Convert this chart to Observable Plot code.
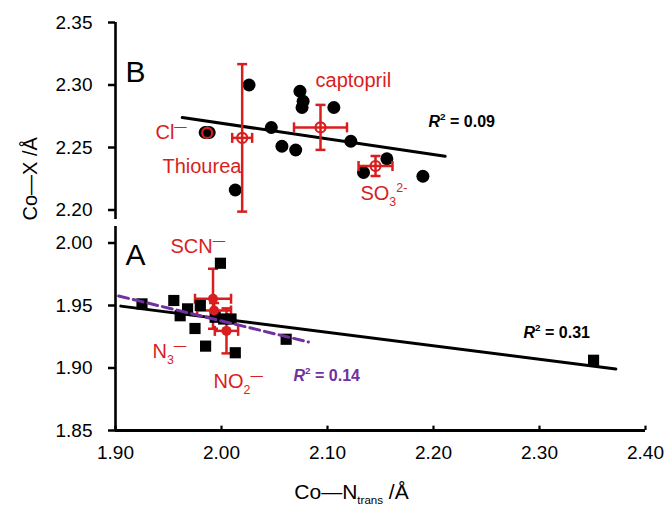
<!DOCTYPE html>
<html>
<head>
<meta charset="utf-8">
<script src="https://cdn.jsdelivr.net/npm/d3@7"></script>
<script src="https://cdn.jsdelivr.net/npm/@observablehq/plot@0.6"></script>
<style>
  body { margin: 0; background: #fff; }
  #chart { width: 670px; height: 509px; }
</style>
</head>
<body>
<div id="chart"></div>
<script>
// ---------- Panel B (upper): Co–X vs Co–N_trans ----------
const bCoN = [2.026, 2.074, 2.077, 2.076, 2.106, 2.047, 2.057, 2.070, 2.122, 2.156, 2.134, 2.190, 2.013, 1.9846, 1.9884];
const bCoX = [2.300, 2.295, 2.287, 2.282, 2.282, 2.266, 2.251, 2.248, 2.255, 2.241, 2.230, 2.227, 2.216, 2.262, 2.262];
const bRedNames = ["Cl⁻", "Thiourea", "captopril", "SO₃²⁻"];
const bRedCoN = [1.9865, 2.0195, 2.0934, 2.1453];
const bRedCoX = [2.2617, 2.2577, 2.2661, 2.2352];
const bRedErrN = [0, 0.0094, 0.025, 0.016];
const bRedErrX = [0, 0.059, 0.018, 0.008];
const bFitCoN = [1.963, 2.211];
const bFitCoX = [2.274, 2.243];

// ---------- Panel A (lower) ----------
const aCoN = [1.999, 1.955, 1.925, 1.961, 1.968, 1.980, 1.975, 1.985, 1.994, 2.002, 2.009, 2.013, 2.061, 2.351];
const aCoX = [1.9838, 1.954, 1.9513, 1.9418, 1.9473, 1.950, 1.9316, 1.9175, 1.9406, 1.9392, 1.9392, 1.9122, 1.923, 1.9062];
const aRedNames = ["SCN⁻", "N₃⁻", "NO₂⁻"];
const aRedCoN = [1.992, 1.993, 2.0047];
const aRedCoX = [1.9554, 1.946, 1.9297];
const aRedErrN = [0.017, 0.016, 0.011];
const aRedErrX = [0.024, 0.006, 0.018];
const aFitAllCoN = [1.905, 2.372];
const aFitAllCoX = [1.9495, 1.8992];
const aFitRedCoN = [1.903, 2.082];
const aFitRedCoX = [1.9576, 1.9208];

// ---------- Axes ----------
const xTicks = [1.90, 2.00, 2.10, 2.20, 2.30, 2.40];
const yTicksB = [2.20, 2.25, 2.30, 2.35];
const yTicksA = [1.85, 1.90, 1.95, 2.00];
const yAxisB = [2.35, 2.1924];   // extent of the upper axis segment
const yAxisA = [2.0132, 1.85];   // extent of the lower axis segment
const xLabel = "Co—N_{trans} /Å";
const yLabel = "Co—X /Å";

// ---------- Annotations ----------
const panelLetters = [{t: "B", x: 1.9094, y: 2.310, p: "B"}, {t: "A", x: 1.9094, y: 1.9904, p: "A"}];
const redLabels = [
  {t: "Cl^{—}", x: 1.9377, y: 2.2619, p: "B"},
  {t: "Thiourea", x: 1.9443, y: 2.2349, p: "B"},
  {t: "captopril", x: 2.0887, y: 2.3032, p: "B"},
  {t: "SO_{3}^{2-}", x: 2.1311, y: 2.2135, p: "B"},
  {t: "SCN^{—}", x: 1.9519, y: 1.9968, p: "A"},
  {t: "N_{3}^{—}", x: 1.9349, y: 1.9128, p: "A"},
  {t: "NO_{2}^{—}", x: 1.9925, y: 1.8892, p: "A"}
];
const r2Black = [{t: "*{R}^{2} = 0.09", x: 2.1953, y: 2.2709, p: "B"}, {t: "*{R}^{2} = 0.31", x: 2.2849, y: 1.9284, p: "A"}];
const r2Purple = [{t: "*{R}^{2} = 0.14", x: 2.0679, y: 1.894, p: "A"}];

// ---------- Build ----------
const OFF = 0.1736; // vertical offset placing panel B above panel A on one y scale
const vy = (y, p) => p === "B" ? y - OFF : y;
const RED = "#d81e1e";
const PURPLE = "#7030a0";

const bDots = bCoN.map((x, i) => ({x, y: vy(bCoX[i], "B")}));
const aDots = aCoN.map((x, i) => ({x, y: aCoX[i]}));
const redB = bRedNames.map((n, i) => ({n, x: bRedCoN[i], y: vy(bRedCoX[i], "B"), ex: bRedErrN[i], ey: bRedErrX[i]}));
const redA = aRedNames.map((n, i) => ({n, x: aRedCoN[i], y: aRedCoX[i], ex: aRedErrN[i], ey: aRedErrX[i]}));
const fitB = bFitCoN.map((x, i) => ({x, y: vy(bFitCoX[i], "B")}));
const fitAll = aFitAllCoN.map((x, i) => ({x, y: aFitAllCoX[i]}));
const fitRed = aFitRedCoN.map((x, i) => ({x, y: aFitRedCoX[i]}));
const toV = arr => arr.map(d => ({...d, y: vy(d.y, d.p)}));

const capsV = pts => pts.filter(d => d.ey > 0).flatMap(d => [{x: d.x, y: d.y - d.ey}, {x: d.x, y: d.y + d.ey}]);
const capsH = pts => pts.filter(d => d.ex > 0).flatMap(d => [{x: d.x - d.ex, y: d.y}, {x: d.x + d.ex, y: d.y}]);
const capHoriz = {draw(ctx, size) { const w = Math.sqrt(size / Math.PI); ctx.moveTo(-w, 0); ctx.lineTo(w, 0); }};
const capVert = {draw(ctx, size) { const w = Math.sqrt(size / Math.PI); ctx.moveTo(0, -w); ctx.lineTo(0, w); }};

const yTicksV = [...yTicksA, ...yTicksB.map(v => vy(v, "B"))];

const errBars = (pts) => [
  Plot.ruleX(pts.filter(d => d.ey > 0), {x: "x", y1: d => d.y - d.ey, y2: d => d.y + d.ey, stroke: RED, strokeWidth: 2.5}),
  Plot.ruleY(pts.filter(d => d.ex > 0), {y: "y", x1: d => d.x - d.ex, x2: d => d.x + d.ex, stroke: RED, strokeWidth: 2.5}),
  Plot.dot(capsV(pts), {x: "x", y: "y", symbol: capHoriz, r: 5, stroke: RED, strokeWidth: 2.5, fill: "none"}),
  Plot.dot(capsH(pts), {x: "x", y: "y", symbol: capVert, r: 5, stroke: RED, strokeWidth: 2.5, fill: "none"})
];

const chart = Plot.plot({
  width: 670,
  height: 509,
  marginLeft: 115,
  marginRight: 25,
  marginTop: 22,
  marginBottom: 79,
  x: {domain: [1.90, 2.40]},
  y: {domain: [1.85, 2.35 - OFF]},
  style: {fontFamily: "'Liberation Sans', Arial, sans-serif", background: "#fff", color: "black"},
  marks: [
    // axis lines
    Plot.ruleX([{y1: vy(yAxisB[0], "B"), y2: vy(yAxisB[1], "B")}, {y1: yAxisA[0], y2: yAxisA[1]}],
      {x: () => xTicks[0], y1: "y1", y2: "y2", strokeWidth: 2.6}),
    Plot.ruleY([yTicksA[0]], {x1: xTicks[0], x2: xTicks[xTicks.length - 1], strokeWidth: 2.8}),
    Plot.ruleX(xTicks, {x: d => d, y1: yTicksA[0], y2: yTicksA[0] + 0.0035, strokeWidth: 2.2}),
    Plot.axisY(yTicksV, {tickSize: 7, tickPadding: 16, strokeWidth: 2.5, fontSize: 19,
      tickFormat: d => (d > 2.01 ? d + OFF : d).toFixed(2), label: null}),
    Plot.axisX(xTicks, {tickSize: 0, tickPadding: 15, fontSize: 19, tickFormat: d => d.toFixed(2), label: null}),
    // panel B
    Plot.dot(bDots, {x: "x", y: "y", r: 6.5, fill: "black"}),
    Plot.line(fitB, {x: "x", y: "y", stroke: "black", strokeWidth: 3}),
    ...errBars(redB),
    Plot.dot(redB, {x: "x", y: "y", r: 5, stroke: RED, strokeWidth: 2.2, fill: "none"}),
    // panel A
    ...errBars(redA),
    Plot.dot(aDots, {x: "x", y: "y", symbol: "square", r: 6.3, fill: "black"}),
    Plot.dot(redA, {x: "x", y: "y", r: 5, fill: RED}),
    Plot.line(fitAll, {x: "x", y: "y", stroke: "black", strokeWidth: 3}),
    Plot.line(fitRed, {x: "x", y: "y", stroke: PURPLE, strokeWidth: 3, strokeDasharray: "10,5"}),
    // annotations
    Plot.text(toV(panelLetters), {x: "x", y: "y", text: "t", textAnchor: "start", lineAnchor: "middle", fontSize: 30, fill: "black"}),
    Plot.text(toV(redLabels), {x: "x", y: "y", text: "t", textAnchor: "start", lineAnchor: "middle", fontSize: 20, fill: RED}),
    Plot.text(toV(r2Black), {x: "x", y: "y", text: "t", textAnchor: "start", lineAnchor: "middle", fontSize: 16, fontWeight: "bold", fill: "black"}),
    Plot.text(toV(r2Purple), {x: "x", y: "y", text: "t", textAnchor: "start", lineAnchor: "middle", fontSize: 16, fontWeight: "bold", fill: PURPLE}),
    // axis titles
    Plot.text([yLabel], {text: d => d, frameAnchor: "left", rotate: -90, dx: -85, dy: -6, fontSize: 20, fill: "black"}),
    Plot.text([xLabel], {text: d => d, frameAnchor: "bottom", dx: -29, dy: 62, fontSize: 21, fill: "black", lineAnchor: "middle"})
  ]
});

document.getElementById("chart").appendChild(chart);

// rich text: _{sub}, ^{sup}, *{italic}
function rich(svg) {
  svg.querySelectorAll("text").forEach(t => {
    const s = t.textContent;
    if (!/[_^*]\{/.test(s)) return;
    const fs = parseFloat(getComputedStyle(t).fontSize) || 16;
    while (t.firstChild) t.removeChild(t.firstChild);
    const re = /([_^*])\{([^}]*)\}|([^_^*]+)/g;
    let cur = 0, m;
    while ((m = re.exec(s))) {
      const ts = document.createElementNS("http://www.w3.org/2000/svg", "tspan");
      let target = 0, size = null, italic = false, txt;
      if (m[3] !== undefined) txt = m[3];
      else {
        txt = m[2];
        if (m[1] === "_") {
          const small = txt.length > 2;
          target = (small ? 0.24 : 0.3) * fs; size = (small ? 0.55 : 0.62) * fs;
        }
        else if (m[1] === "^") { target = -0.4 * fs; size = 0.62 * fs; }
        else italic = true;
      }
      if (target !== cur) { ts.setAttribute("dy", target - cur); cur = target; }
      if (size) ts.setAttribute("font-size", size);
      if (italic) ts.setAttribute("font-style", "italic");
      ts.textContent = txt;
      t.appendChild(ts);
    }
  });
}
rich(chart);
</script>
</body>
</html>
